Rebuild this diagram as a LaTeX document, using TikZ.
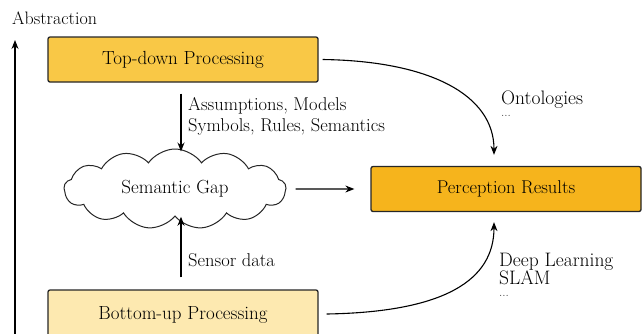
\documentclass[tikz,border=0pt]{standalone}
\usetikzlibrary{shapes.symbols,arrows.meta,calc}
\definecolor{topcol}{HTML}{F9C846}
\definecolor{perccol}{HTML}{F6B41C}
\definecolor{botcol}{HTML}{FDE9B0}
\begin{document}
\begin{tikzpicture}[x=1pt,y=-1pt,
  procbox/.style={draw=black!85,line width=1.3pt,rounded corners=2pt,minimum width=270pt,minimum height=45pt,font=\fontsize{19}{22}\selectfont,inner sep=0pt},
  conn/.style={line width=1.1pt,-{Stealth[length=9pt,width=7pt]}},
  lbl/.style={font=\fontsize{18.5}{21}\selectfont,align=left,inner sep=0pt,anchor=west}
]
\useasboundingbox (0,0) rectangle (644,333);
\node[font=\fontsize{18}{20}\selectfont,anchor=west,inner sep=0pt] (abs) at (12,18) {Abstraction};
\coordinate (axbot) at (15,340);
\coordinate (axtop) at (15,40);
\draw[conn] (axbot) -- (axtop);

\node[procbox,fill=topcol] (top) at (183,59.5) {Top-down Processing};
\node[procbox,fill=perccol,font=\fontsize{18.5}{21}\selectfont] (perc) at (506,189) {Perception Results};
\node[procbox,fill=botcol,minimum height=50pt] (bot) at (183,315) {Bottom-up Processing};

\node[cloud,draw=black!85,line width=1pt,cloud puffs=13,cloud puff arc=110,aspect=2.8,minimum width=222pt,minimum height=80pt,inner sep=0pt,fill=white,font=\fontsize{19}{22}\selectfont] (gap) at (175,189) {Semantic Gap};

\draw[conn] ([xshift=-2pt,yshift=-11pt]top.south) -- ([xshift=-2pt,yshift=-3pt]top.south |- gap.north);
\node[lbl] (asm) at (188,116) {Assumptions, Models\\Symbols, Rules, Semantics};

\draw[conn] ([xshift=-2pt,yshift=12pt]bot.north) -- ([xshift=-2pt]bot.north |- gap.south);
\node[lbl] (sen) at (188,260) {Sensor data};

\draw[conn] ([xshift=9pt]gap.east) -- ([xshift=-16pt]perc.west);

\draw[conn] ([xshift=4pt]top.east) .. controls (430,61) and (494,95) .. ([xshift=-12pt,yshift=11pt]perc.north);
\node[lbl,font=\fontsize{19.5}{17}\selectfont] (ont) at (501,104) {Ontologies\\[-5pt]{\fontsize{12}{12}\selectfont\color{black!75}...}};

\draw[conn] ([xshift=8pt,yshift=1pt]bot.east) .. controls (445,312) and (494,280) .. ([xshift=-12pt,yshift=-10pt]perc.south);
\node[lbl,font=\fontsize{19.5}{18}\selectfont] (dl) at (499,275) {Deep Learning\\SLAM\\[-6pt]{\fontsize{12}{12}\selectfont\color{black!75}...}};
\end{tikzpicture}
\end{document}
